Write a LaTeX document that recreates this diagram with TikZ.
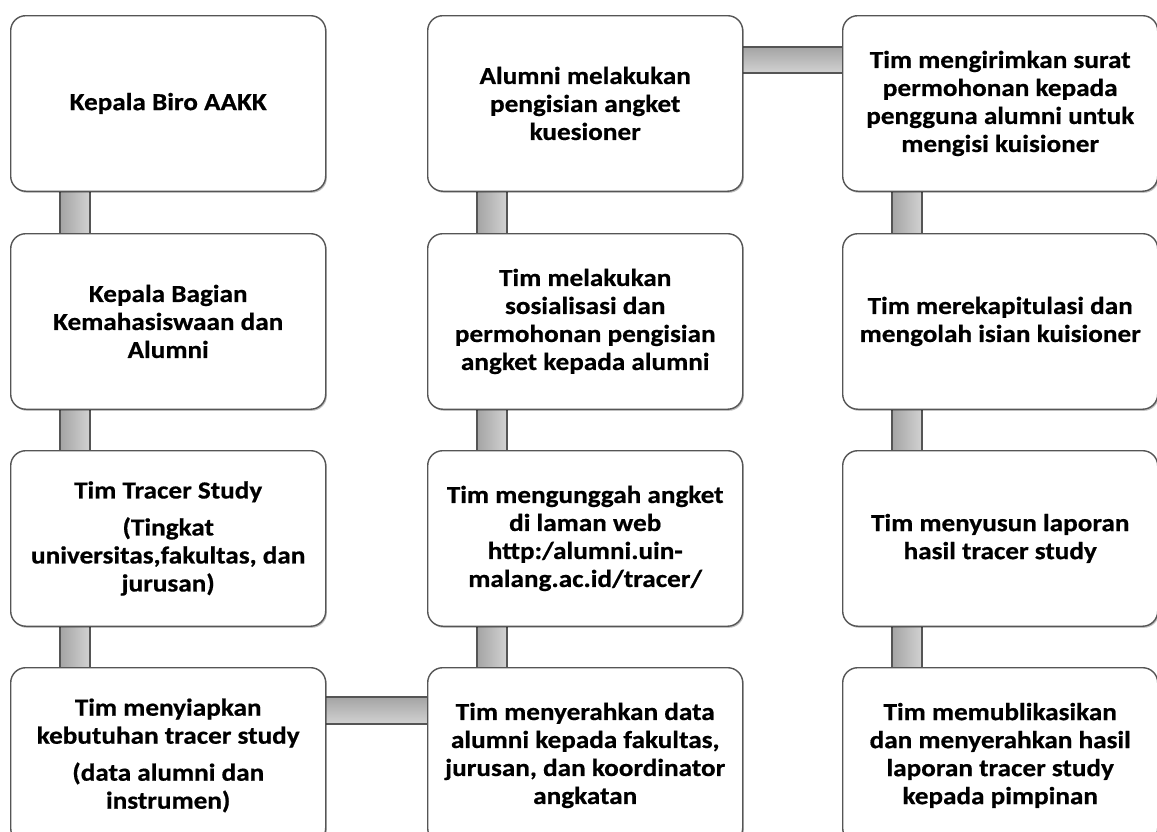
\documentclass[tikz,border=0pt]{standalone}
\usepackage{fontspec}
\setmainfont{Carlito}[FakeStretch=1.11,FakeBold=0.6]
\usetikzlibrary{shadows}
\pgfdeclarelayer{background}
\pgfsetlayers{background,main}
\definecolor{edge}{HTML}{555555}
\definecolor{barA}{HTML}{A4A4A4}
\definecolor{barB}{HTML}{D2D2D2}
\tikzset{
  box/.style={draw=edge, line width=1.4pt, rounded corners=15pt, fill=white,
    minimum width=315pt, minimum height=175.5pt, anchor=north west,
    align=center, inner sep=0pt,
    font=\fontsize{24.5}{28}\selectfont\bfseries,
    drop shadow={shadow xshift=1.2pt, shadow yshift=-1.6pt, opacity=0.25, fill=black}},
  vbar/.style={draw=edge, line width=1.2pt, left color=barA, right color=barB},
  hbar/.style={draw=edge, line width=1.2pt, top color=barA, bottom color=barB}
}
\begin{document}
\begin{tikzpicture}[x=1pt,y=-1pt]
\clip (0,0) rectangle (1157,831);
% column 1
\node[box] (a1) at (10,15) {Kepala Biro AAKK};
\node[box] (a2) at (10,233) {Kepala Bagian\\Kemahasiswaan dan\\Alumni};
\node[box] (a3) at (10,450) {Tim Tracer Study\\[9pt](Tingkat\\universitas,fakultas, dan\\jurusan)};
\node[box] (a4) at (10,667) {Tim menyiapkan\\kebutuhan tracer study\\[9pt](data alumni dan\\instrumen)};
% column 2
\node[box] (b1) at (427,15) {Alumni melakukan\\pengisian angket\\kuesioner};
\node[box] (b2) at (427,233) {Tim melakukan\\sosialisasi dan\\permohonan pengisian\\angket kepada alumni};
\node[box] (b3) at (427,450) {Tim mengunggah angket\\di laman web\\http:/alumni.uin-\\malang.ac.id/tracer/};
\node[box] (b4) at (427,667) {Tim menyerahkan data\\alumni kepada fakultas,\\jurusan, dan koordinator\\angkatan};
% column 3
\node[box] (c1) at (842,15) {Tim mengirimkan surat\\permohonan kepada\\pengguna alumni untuk\\mengisi kuisioner};
\node[box] (c2) at (842,233) {Tim merekapitulasi dan\\mengolah isian kuisioner};
\node[box] (c3) at (842,450) {Tim menyusun laporan\\hasil tracer study};
\node[box] (c4) at (842,667) {Tim memublikasikan\\dan menyerahkan hasil\\laporan tracer study\\kepada pimpinan};
\begin{pgfonlayer}{background}
\fill[white] (0,0) rectangle (1157,831);
\foreach \u/\v in {a1/a2,a2/a3,a3/a4,b4/b3,b3/b2,b2/b1,c1/c2,c2/c3,c3/c4}{
  \draw[vbar] ([xshift=50pt,yshift=4pt]\u.south west) rectangle ([xshift=80pt,yshift=-4pt]\v.north west);
}
\draw[hbar] ([xshift=-4pt,yshift=-32pt]b1.north east) rectangle ([xshift=4pt,yshift=-58pt]c1.north west);
\draw[hbar] ([xshift=-4pt,yshift=-30pt]a4.north east) rectangle ([xshift=4pt,yshift=-57pt]b4.north west);
\end{pgfonlayer}
\end{tikzpicture}
\end{document}
